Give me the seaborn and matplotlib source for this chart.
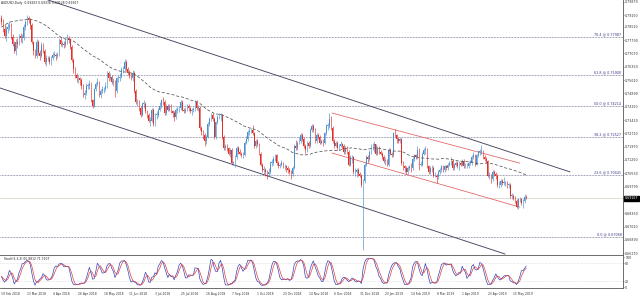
import numpy as np
import pandas as pd
import matplotlib
matplotlib.use("Agg")
import matplotlib.pyplot as plt
import seaborn as sns

# ---------------- data (prices in pips, /10000) ----------------
pre_close = [7530, 7510, 7540, 7560, 7630, 7650, 7650, 7660, 7670, 7680, 7690, 7700, 7730, 7770, 7790, 7810,
             7850, 7840, 7860, 7870, 7840, 7830, 7870, 7880, 7910, 7960, 7900, 7940, 8000, 7990, 8000, 7980,
             8070, 8020, 8100, 8090, 8050, 8060, 8050, 7910, 7880, 7870, 7800, 7800, 7820, 7860, 7880, 7930,
             7960, 7900]

close = [7880, 7840, 7800, 7840, 7850, 7860, 7795, 7760, 7720, 7770, 7760, 7800, 7790, 7790, 7850, 7880, 7900, 7890, 7860, 7770,
         7720, 7690, 7770, 7710, 7690, 7755, 7720, 7660, 7680, 7680, 7660, 7680, 7700, 7700, 7690, 7700, 7780, 7760, 7760, 7750,
         7770, 7790, 7780, 7740, 7670, 7620, 7590, 7570, 7570, 7560, 7530, 7480, 7490, 7530, 7530, 7540, 7450, 7420, 7510, 7540,
         7550, 7480, 7500, 7510, 7510, 7530, 7600, 7570, 7580, 7550, 7550, 7500, 7570, 7570, 7580, 7620, 7620, 7660, 7620, 7600,
         7590, 7570, 7600, 7500, 7440, 7440, 7410, 7370, 7430, 7430, 7390, 7370, 7340, 7340, 7400, 7320, 7370, 7370, 7400, 7420,
         7450, 7440, 7380, 7420, 7400, 7420, 7390, 7380, 7360, 7400, 7400, 7410, 7440, 7400, 7390, 7400, 7420, 7410, 7390, 7400,
         7400, 7440, 7410, 7410, 7300, 7280, 7260, 7230, 7250, 7320, 7350, 7370, 7350, 7250, 7330, 7360, 7370, 7370, 7250, 7190,
         7200, 7190, 7160, 7180, 7110, 7110, 7140, 7190, 7170, 7160, 7150, 7150, 7220, 7240, 7280, 7280, 7290, 7270, 7200, 7230,
         7210, 7160, 7100, 7070, 7070, 7060, 7050, 7060, 7110, 7110, 7130, 7150, 7110, 7090, 7100, 7110, 7090, 7090, 7080, 7070,
         7060, 7050, 7080, 7200, 7190, 7220, 7230, 7260, 7240, 7200, 7180, 7220, 7200, 7290, 7310, 7290, 7230, 7260, 7250, 7220,
         7230, 7220, 7270, 7310, 7310, 7350, 7300, 7230, 7200, 7220, 7190, 7200, 7210, 7200, 7170, 7190, 7170, 7100, 7140, 7140,
         7060, 7060, 7070, 7050, 7040, 6990, 7010, 7100, 7140, 7130, 7170, 7200, 7200, 7210, 7160, 7190, 7170, 7160, 7140, 7120,
         7120, 7100, 7180, 7160, 7150, 7270, 7260, 7240, 7230, 7240, 7110, 7090, 7080, 7060, 7080, 7090, 7080, 7130, 7150, 7140,
         7180, 7100, 7100, 7160, 7180, 7180, 7090, 7060, 7080, 7080, 7040, 7040, 7030, 7060, 7070, 7090, 7070, 7090, 7080, 7100,
         7110, 7120, 7080, 7100, 7110, 7090, 7110, 7100, 7120, 7090, 7090, 7090, 7110, 7110, 7140, 7150, 7100, 7150, 7170, 7170,
         7170, 7140, 7130, 7120, 7040, 7040, 7020, 7060, 7050, 7040, 6990, 6990, 7010, 7000, 7000, 7000, 6990, 6990, 6930, 6930,
         6920, 6900, 6870, 6910, 6910, 6890, 6900, 6925, 6917]

high = [7915, 7895, 7865, 7855, 7870, 7885, 7875, 7810, 7775, 7785, 7790, 7815, 7820, 7810, 7865, 7890, 7917, 7910, 7900, 7870,
        7775, 7730, 7785, 7780, 7725, 7770, 7765, 7730, 7700, 7690, 7690, 7690, 7715, 7720, 7710, 7715, 7790, 7795, 7775, 7775,
        7790, 7812, 7800, 7790, 7750, 7680, 7630, 7600, 7590, 7580, 7570, 7540, 7505, 7545, 7545, 7560, 7550, 7460, 7520, 7550,
        7570, 7555, 7515, 7530, 7525, 7550, 7610, 7610, 7600, 7590, 7570, 7560, 7580, 7590, 7600, 7630, 7640, 7677, 7670, 7630,
        7615, 7605, 7615, 7610, 7510, 7460, 7450, 7420, 7440, 7450, 7440, 7400, 7380, 7360, 7410, 7410, 7380, 7390, 7410, 7440,
        7460, 7470, 7450, 7430, 7430, 7430, 7430, 7400, 7390, 7410, 7420, 7420, 7455, 7450, 7410, 7415, 7430, 7430, 7415, 7410,
        7415, 7450, 7450, 7425, 7420, 7310, 7290, 7270, 7260, 7330, 7360, 7380, 7380, 7360, 7340, 7370, 7380, 7380, 7375, 7260,
        7215, 7210, 7195, 7190, 7190, 7120, 7150, 7200, 7200, 7185, 7170, 7170, 7230, 7255, 7290, 7300, 7300, 7315, 7280, 7240,
        7240, 7220, 7170, 7110, 7090, 7080, 7070, 7080, 7120, 7130, 7145, 7160, 7160, 7120, 7110, 7125, 7115, 7105, 7100, 7090,
        7080, 7070, 7090, 7210, 7235, 7230, 7250, 7270, 7270, 7250, 7210, 7230, 7230, 7300, 7320, 7320, 7300, 7270, 7270, 7260,
        7240, 7240, 7280, 7320, 7325, 7382, 7365, 7310, 7240, 7230, 7230, 7210, 7230, 7220, 7210, 7200, 7200, 7180, 7150, 7150,
        7145, 7080, 7080, 7080, 7060, 7050, 7020, 7110, 7150, 7150, 7180, 7210, 7220, 7230, 7215, 7200, 7200, 7180, 7170, 7150,
        7140, 7130, 7190, 7190, 7170, 7280, 7295, 7265, 7250, 7250, 7245, 7120, 7100, 7090, 7090, 7100, 7110, 7140, 7160, 7160,
        7200, 7190, 7120, 7170, 7190, 7200, 7190, 7100, 7090, 7100, 7090, 7060, 7050, 7070, 7080, 7100, 7100, 7100, 7100, 7110,
        7120, 7140, 7130, 7110, 7120, 7120, 7120, 7120, 7130, 7130, 7110, 7110, 7120, 7125, 7150, 7170, 7160, 7160, 7180, 7185,
        7205, 7180, 7150, 7140, 7125, 7060, 7050, 7070, 7070, 7060, 7050, 7010, 7020, 7020, 7030, 7010, 7010, 7000, 7000, 6945,
        6940, 6930, 6910, 6920, 6925, 6920, 6910, 6940, 6934]

low = [7860, 7825, 7790, 7775, 7820, 7835, 7785, 7745, 7710, 7700, 7735, 7750, 7770, 7765, 7780, 7835, 7860, 7870, 7840, 7760,
       7700, 7680, 7680, 7700, 7670, 7685, 7710, 7650, 7640, 7665, 7650, 7645, 7670, 7685, 7670, 7680, 7690, 7745, 7740, 7735,
       7740, 7760, 7765, 7730, 7660, 7600, 7575, 7550, 7545, 7535, 7515, 7470, 7460, 7480, 7510, 7515, 7440, 7410, 7415, 7500,
       7530, 7470, 7465, 7490, 7490, 7500, 7520, 7555, 7560, 7540, 7530, 7470, 7490, 7550, 7555, 7570, 7600, 7610, 7610, 7590,
       7575, 7560, 7555, 7490, 7430, 7420, 7395, 7360, 7365, 7410, 7380, 7355, 7330, 7310, 7330, 7310, 7310, 7350, 7360, 7390,
       7410, 7425, 7370, 7370, 7390, 7390, 7380, 7360, 7340, 7350, 7380, 7385, 7400, 7390, 7380, 7380, 7390, 7395, 7380, 7370,
       7385, 7395, 7400, 7390, 7290, 7260, 7240, 7200, 7215, 7245, 7310, 7340, 7340, 7240, 7240, 7320, 7350, 7340, 7240, 7180,
       7180, 7175, 7150, 7140, 7100, 7095, 7085, 7130, 7160, 7150, 7140, 7135, 7145, 7210, 7230, 7260, 7270, 7260, 7190, 7190,
       7200, 7150, 7090, 7060, 7050, 7040, 7020, 7040, 7050, 7090, 7100, 7120, 7100, 7080, 7080, 7090, 7080, 7070, 7060, 7055,
       7050, 7020, 7040, 7075, 7180, 7180, 7210, 7220, 7230, 7190, 7165, 7170, 7190, 7195, 7280, 7280, 7220, 7220, 7240, 7210,
       7210, 7200, 7210, 7260, 7290, 7300, 7290, 7220, 7190, 7195, 7180, 7180, 7195, 7185, 7160, 7160, 7160, 7090, 7090, 7110,
       7050, 7040, 7030, 7040, 7030, 6980, 6635, 7000, 7090, 7110, 7120, 7160, 7180, 7170, 7150, 7150, 7160, 7150, 7130, 7110,
       7100, 7090, 7090, 7150, 7140, 7140, 7250, 7220, 7220, 7220, 7100, 7070, 7060, 7050, 7050, 7070, 7060, 7070, 7120, 7130,
       7130, 7070, 7090, 7090, 7150, 7160, 7080, 7050, 7050, 7060, 7030, 7030, 7000, 7020, 7050, 7060, 7060, 7060, 7070, 7070,
       7090, 7100, 7070, 7070, 7090, 7080, 7070, 7090, 7090, 7080, 7080, 7080, 7080, 7100, 7100, 7130, 7090, 7095, 7140, 7150,
       7160, 7130, 7120, 7110, 7030, 7020, 7000, 7010, 7040, 7020, 6980, 6970, 6980, 6990, 6990, 6985, 6970, 6970, 6920, 6910,
       6905, 6890, 6865, 6860, 6895, 6880, 6865, 6890, 6913]

date_labels = ["19 Feb 2018", "13 Mar 2018", "4 Apr 2018", "26 Apr 2018", "18 May 2018", "11 Jun 2018",
               "3 Jul 2018", "25 Jul 2018", "16 Aug 2018", "7 Sep 2018", "1 Oct 2018", "23 Oct 2018",
               "14 Nov 2018", "6 Dec 2018", "31 Dec 2018", "23 Jan 2019", "14 Feb 2019", "8 Mar 2019",
               "1 Apr 2019", "23 Apr 2019", "15 May 2019"]
date_pos = [0, 16, 32, 48, 64, 80, 96, 112, 128, 144, 160, 176, 192, 208, 224, 240, 256, 272, 288, 304, 320]

price_ticks = [0.79870, 0.79150, 0.78510, 0.77790, 0.77070, 0.76350, 0.75610, 0.74890, 0.74150, 0.73430,
               0.72710, 0.71970, 0.71250, 0.70530, 0.69790, 0.68350, 0.67610, 0.66890, 0.66170]
current_price = 0.69167

fib_pct = ["76.4", "61.8", "50.0", "38.2", "23.6", "0.0"]
fib_val = [0.77987, 0.75900, 0.74214, 0.72527, 0.70441, 0.67068]

header = "AUDUSD,Daily  0.69203 0.69336 0.69128 0.69167"
stoch_label = "Stoch(5,3,3) 65.8812 71.7907"

# trend lines given as (bar index, price) end points
chan_upper = ([29.1, 355.4], [0.7998, 0.7060])
chan_lower = ([-0.9, 314.8], [0.7518, 0.6612])
red_upper = ([206.6, 324.0], [0.7381, 0.7108])
red_lower = ([206.6, 324.0], [0.7163, 0.6868])

# ---------------- preparation ----------------
C = np.array(close) / 1e4
H = np.array(high) / 1e4
L = np.array(low) / 1e4
O = np.concatenate([[pre_close[-1] / 1e4], C[:-1]])
n = len(C)
idx = np.arange(n)

full = pd.Series(np.concatenate([np.array(pre_close) / 1e4, C]))
ma = full.rolling(50).mean().to_numpy()[len(pre_close):]

hh = pd.Series(H).rolling(5, min_periods=1).max()
ll = pd.Series(L).rolling(5, min_periods=1).min()
num = (pd.Series(C) - ll).rolling(3, min_periods=1).sum()
den = (hh - ll).rolling(3, min_periods=1).sum()
k = (100 * num / den).to_numpy()
d = pd.Series(k).rolling(3, min_periods=1).mean().to_numpy()

df = pd.DataFrame({"idx": idx, "ma": ma, "k": k, "d": d})

# ---------------- figure ----------------
sns.set_style("white")
plt.rcParams['font.family'] = ['DejaVu Sans']
W, Hpx = 640, 298
fig = plt.figure(figsize=(W / 100, Hpx / 100), dpi=100)
fig.patch.set_facecolor("white")

def px_axes(x0, y0, x1, y1):
    return fig.add_axes([x0 / W, 1 - y1 / Hpx, (x1 - x0) / W, (y1 - y0) / Hpx])

ax = px_axes(0, 0, 623, 255)
ax2 = px_axes(0, 256, 623, 288)

xlim = (-0.875, 388.5)
ptop, pbot = 0.79979, 0.66067

bull, bear = "#4d8fcc", "#e0302c"
cols = np.where(C >= O, bull, bear)

# reference lines
for v in fib_val:
    ax.axhline(v, color="#4a4a7a", lw=0.5, ls=(0, (1, 1.2)), zorder=1)
ax.axhline(current_price, color="#ddd8cc", lw=0.6, zorder=1)

# candles
ax.vlines(idx, L, H, colors=cols, lw=0.45, zorder=3)
body_lo = np.minimum(O, C)
body_h = np.maximum(np.abs(C - O), 0.0004)
ax.bar(idx, body_h, bottom=body_lo, width=0.62, color=cols, lw=0, zorder=4)

# moving average
sns.lineplot(data=df, x="idx", y="ma", ax=ax, color="#555555", lw=0.55,
             linestyle=(0, (4, 2.5)), zorder=5)

# channels
for (xs, ys) in [chan_upper, chan_lower]:
    ax.plot(xs, ys, color="#44445e", lw=0.65, zorder=2)
for (xs, ys) in [red_upper, red_lower]:
    ax.plot(xs, ys, color="#e06060", lw=0.55, zorder=2)

# fib labels
for p, v in zip(fib_pct, fib_val):
    ax.text(387.5, v + 0.0002, f"{p} @ {v:.5f}", fontsize=2.4, color="#3a3a8a",
            ha="right", va="bottom")

ax.text(-0.2, 0.7995, header, fontsize=2.2, color="#222222", va="top", ha="left")

ax.set_xlim(*xlim)
ax.set_ylim(pbot, ptop)
ax.set_xlabel("")
ax.set_ylabel("")
ax.set_xticks([])
ax.yaxis.tick_right()
ax.set_yticks(price_ticks)
ax.set_yticklabels([f"{t:.5f}" for t in price_ticks])
ax.tick_params(axis="y", labelsize=2.3, length=1.0, width=0.4, pad=0.6, colors="#333333")
for s in ["top", "left"]:
    ax.spines[s].set_visible(False)
ax.spines["right"].set_color("#555555")
ax.spines["right"].set_linewidth(0.6)
ax.spines["bottom"].set_color("#555555")
ax.spines["bottom"].set_linewidth(0.6)
ax.text(1.003, (current_price - pbot) / (ptop - pbot), f"{current_price:.5f}", transform=ax.transAxes,
        fontsize=2.3, color="white", va="center", ha="left",
        bbox=dict(boxstyle="square,pad=0.12", fc="black", ec="black"))

# stochastic
ax2.axhline(80, color="#c8c8c8", lw=0.4, ls=(0, (1, 1.5)))
ax2.axhline(20, color="#c8c8c8", lw=0.4, ls=(0, (1, 1.5)))
sns.lineplot(data=df, x="idx", y="k", ax=ax2, color="#3344bb", lw=0.5)
sns.lineplot(data=df, x="idx", y="d", ax=ax2, color="#e04040", lw=0.5)
ax2.set_xlim(*xlim)
ax2.set_ylim(-3, 105)
ax2.set_xlabel("")
ax2.set_ylabel("")
ax2.yaxis.tick_right()
ax2.set_yticks([100, 80, 20, 0])
ax2.set_yticklabels(["100", "80", "20", "0"])
ax2.tick_params(axis="y", labelsize=2.3, length=1.0, width=0.4, pad=0.6, colors="#333333")
ax2.set_xticks(date_pos)
ax2.set_xticklabels(date_labels, ha="left")
ax2.tick_params(axis="x", labelsize=2.2, length=1.5, width=0.4, pad=1.5, colors="#333333")
for s in ["top", "left"]:
    ax2.spines[s].set_visible(False)
for s in ["right", "bottom"]:
    ax2.spines[s].set_color("#555555")
    ax2.spines[s].set_linewidth(0.6)
ax2.text(1.5, 103, stoch_label, fontsize=2.2, color="#222222", va="top", ha="left")

fig.savefig("out.png", dpi=100, facecolor="white")
